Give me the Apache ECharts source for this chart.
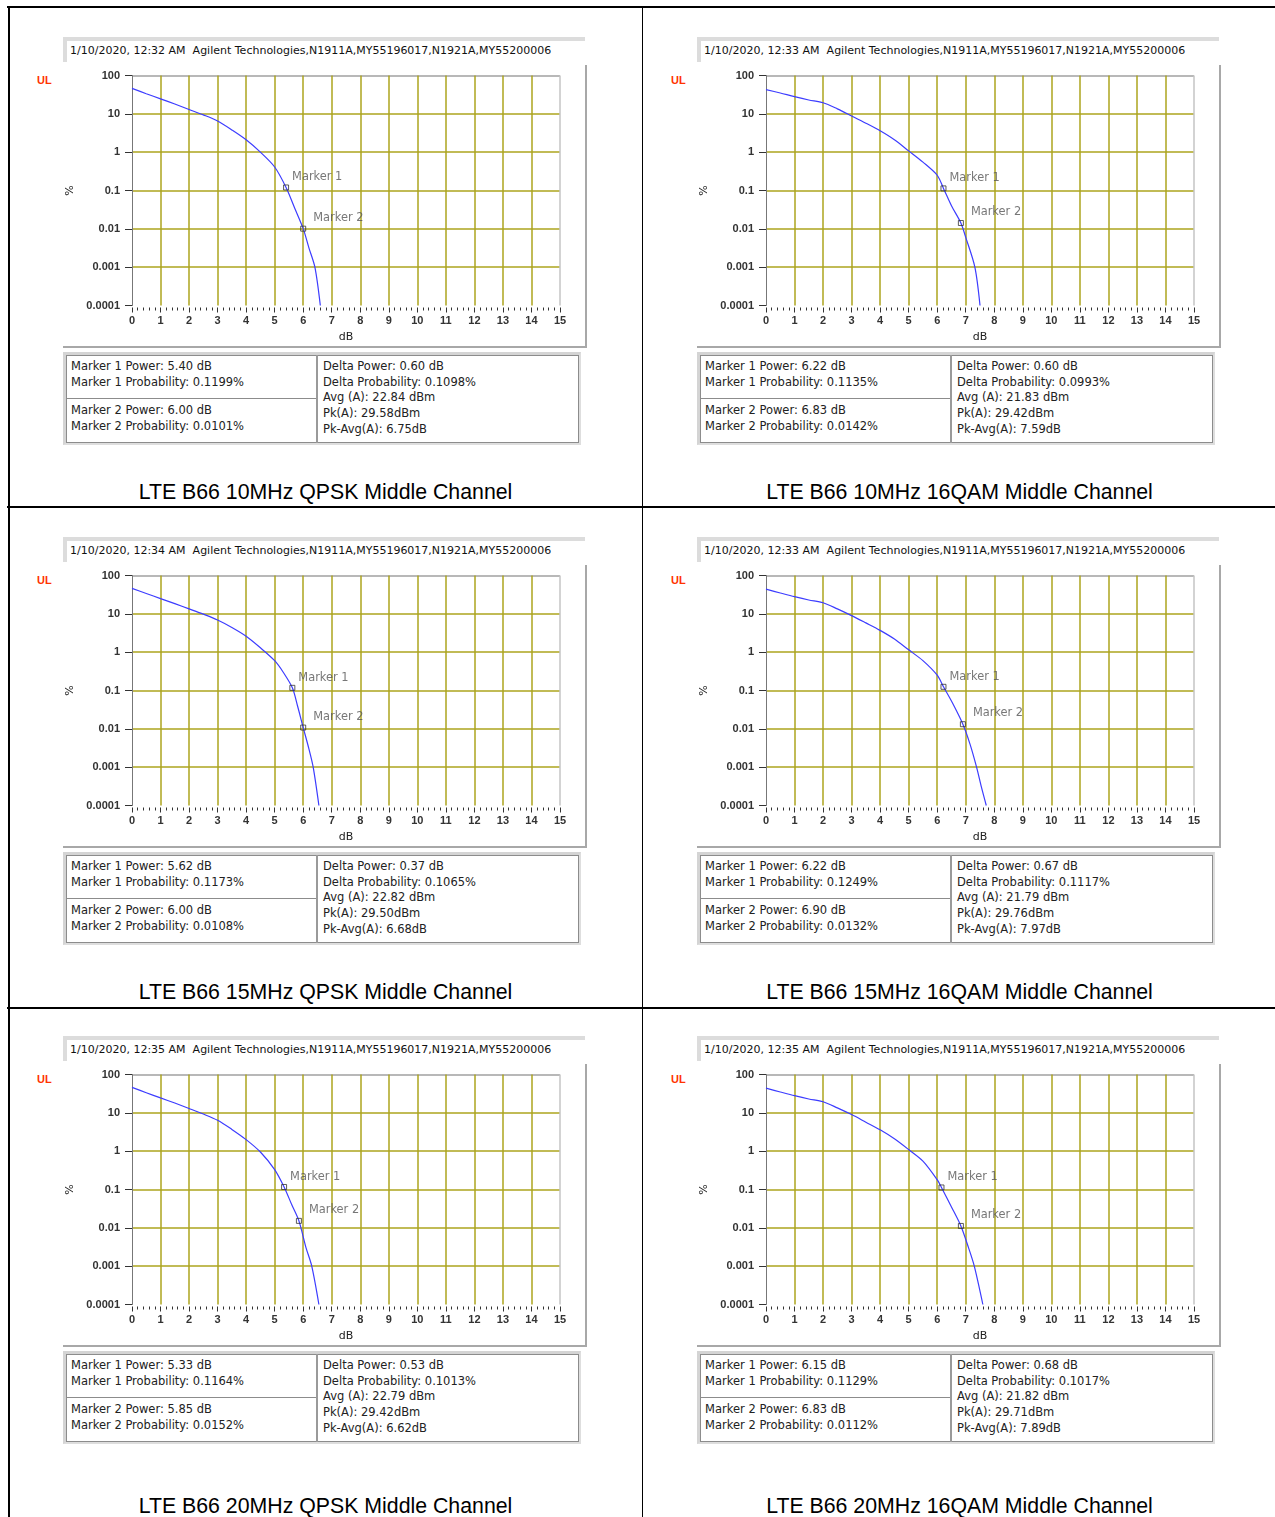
<!DOCTYPE html>
<html><head><meta charset="utf-8">
<script src="https://cdn.jsdelivr.net/npm/echarts@6/dist/echarts.min.js"></script>
<style>
body{margin:0;background:#fff;width:1275px;height:1517px;position:relative;overflow:hidden;font-family:'DejaVu Sans',sans-serif;}
.a{position:absolute;box-sizing:border-box;}
.t{position:absolute;white-space:pre;font-family:'DejaVu Sans',sans-serif;font-size:11.5px;color:#222;line-height:15.7px;}
</style></head><body>
<script>
// ---------- data ----------
const xTickLabels = ['0','1','2','3','4','5','6','7','8','9','10','11','12','13','14','15'];
const yTickLabels = ['0.0001','0.001','0.01','0.1','1','10','100'];
const markerNames = ['Marker 1','Marker 2'];

const headers = [
  '1/10/2020, 12:32 AM  Agilent Technologies,N1911A,MY55196017,N1921A,MY55200006',
  '1/10/2020, 12:33 AM  Agilent Technologies,N1911A,MY55196017,N1921A,MY55200006',
  '1/10/2020, 12:34 AM  Agilent Technologies,N1911A,MY55196017,N1921A,MY55200006',
  '1/10/2020, 12:33 AM  Agilent Technologies,N1911A,MY55196017,N1921A,MY55200006',
  '1/10/2020, 12:35 AM  Agilent Technologies,N1911A,MY55196017,N1921A,MY55200006',
  '1/10/2020, 12:35 AM  Agilent Technologies,N1911A,MY55196017,N1921A,MY55200006'
];
const captions = [
  'LTE B66 10MHz QPSK Middle Channel','LTE B66 10MHz 16QAM Middle Channel',
  'LTE B66 15MHz QPSK Middle Channel','LTE B66 15MHz 16QAM Middle Channel',
  'LTE B66 20MHz QPSK Middle Channel','LTE B66 20MHz 16QAM Middle Channel'
];

// CCDF curves: [dB, %]
const curveQpsk10 = [[0,46],[0.5,33.5],[1,24.6],[1.5,18],[2,13],[2.5,9.4],[3,6.5],[3.5,3.8],[4,2.1],[4.5,1.0],[5,0.41],[5.4,0.1199],[5.7,0.035],[6.0,0.0101],[6.2,0.0032],[6.41,0.001],[6.6,0.0001]];
const curveQam10  = [[0,43],[0.5,35],[1,28],[1.5,23],[2,19.5],[2.5,13.5],[3,8.8],[3.5,5.7],[4,3.6],[4.5,2.1],[5,1.08],[5.5,0.55],[6,0.25],[6.22,0.1135],[6.5,0.04],[6.83,0.0142],[7.0,0.006],[7.32,0.001],[7.5,0.0001]];
const curveQpsk15 = [[0,46],[0.5,34],[1,25],[1.5,18.5],[2,13.5],[2.5,9.8],[3,6.9],[3.5,4.4],[4,2.6],[4.5,1.3],[5,0.6],[5.3,0.3],[5.62,0.1173],[5.8,0.04],[6.0,0.0108],[6.2,0.003],[6.35,0.001],[6.55,0.0001]];
const curveQam15  = [[0,44],[0.5,35],[1,28],[1.5,23],[2,19.5],[2.5,13.5],[3,9],[3.5,5.8],[4,3.7],[4.5,2.2],[5,1.15],[5.5,0.6],[6,0.25],[6.22,0.1249],[6.55,0.045],[6.9,0.0132],[7.15,0.004],[7.38,0.001],[7.55,0.0003],[7.72,0.0001]];
const curveQpsk20 = [[0,46],[0.5,33.5],[1,24.5],[1.5,18],[2,13],[2.5,9.3],[3,6.4],[3.5,3.7],[4,2.0],[4.5,0.95],[5,0.33],[5.33,0.1164],[5.6,0.04],[5.85,0.0152],[6.1,0.003],[6.3,0.001],[6.55,0.0001]];
const curveQam20  = [[0,44],[0.5,35],[1,28],[1.5,23],[2,19.5],[2.5,13.5],[3,9],[3.5,5.7],[4,3.6],[4.5,2.1],[5,1.1],[5.5,0.55],[6,0.18],[6.15,0.1129],[6.5,0.035],[6.83,0.0112],[7.1,0.003],[7.3,0.001],[7.6,0.0001]];

// markers: [power dB, probability %]
const markersQpsk10 = [[5.40,0.1199],[6.00,0.0101]];
const markersQam10  = [[6.22,0.1135],[6.83,0.0142]];
const markersQpsk15 = [[5.62,0.1173],[6.00,0.0108]];
const markersQam15  = [[6.22,0.1249],[6.90,0.0132]];
const markersQpsk20 = [[5.33,0.1164],[5.85,0.0152]];
const markersQam20  = [[6.15,0.1129],[6.83,0.0112]];

// delta / summary lines
const summaryQpsk10 = ['Delta Power: 0.60 dB','Delta Probability: 0.1098%','Avg (A): 22.84 dBm','Pk(A): 29.58dBm','Pk-Avg(A): 6.75dB'];
const summaryQam10  = ['Delta Power: 0.60 dB','Delta Probability: 0.0993%','Avg (A): 21.83 dBm','Pk(A): 29.42dBm','Pk-Avg(A): 7.59dB'];
const summaryQpsk15 = ['Delta Power: 0.37 dB','Delta Probability: 0.1065%','Avg (A): 22.82 dBm','Pk(A): 29.50dBm','Pk-Avg(A): 6.68dB'];
const summaryQam15  = ['Delta Power: 0.67 dB','Delta Probability: 0.1117%','Avg (A): 21.79 dBm','Pk(A): 29.76dBm','Pk-Avg(A): 7.97dB'];
const summaryQpsk20 = ['Delta Power: 0.53 dB','Delta Probability: 0.1013%','Avg (A): 22.79 dBm','Pk(A): 29.42dBm','Pk-Avg(A): 6.62dB'];
const summaryQam20  = ['Delta Power: 0.68 dB','Delta Probability: 0.1017%','Avg (A): 21.82 dBm','Pk(A): 29.71dBm','Pk-Avg(A): 7.89dB'];

// ---------- layout ----------
const curves = [curveQpsk10,curveQam10,curveQpsk15,curveQam15,curveQpsk20,curveQam20];
const markers = [markersQpsk10,markersQam10,markersQpsk15,markersQam15,markersQpsk20,markersQam20];
const summaries = [summaryQpsk10,summaryQam10,summaryQpsk15,summaryQam15,summaryQpsk20,summaryQam20];

function el(cls, css, text){
  const d=document.createElement('div'); d.className=cls;
  Object.assign(d.style, css); if(text!==undefined) d.textContent=text;
  document.body.appendChild(d); return d;
}
function px(v){return v+'px';}

// outer table lines
el('a',{left:'7px',top:'6px',width:'1270px',height:'2px',background:'#000'});
el('a',{left:'7.5px',top:'6px',width:'2px',height:'1511px',background:'#000'});
el('a',{left:'641.7px',top:'6px',width:'1.8px',height:'1511px',background:'#000'});
el('a',{left:'7px',top:'506px',width:'1270px',height:'2px',background:'#000'});
el('a',{left:'7px',top:'1007px',width:'1270px',height:'2px',background:'#000'});

const OLIVE='#ada51e';
const rowOff=[0,500,999];
const capY=[492,492,507];

for(let i=0;i<6;i++){
  const c=i%2, r=Math.floor(i/2);
  const ox=634*c, oy=rowOff[r];
  // header bar
  el('a',{left:px(ox+63),top:px(oy+37),width:'522px',height:'25px',borderTop:'4px solid #dcdcdc',borderLeft:'4px solid #dcdcdc',
    fontFamily:"'DejaVu Sans',sans-serif",fontSize:'11px',color:'#111',lineHeight:'19px',paddingLeft:'3px',whiteSpace:'pre'}, headers[i]);
  // UL
  el('a',{left:px(ox+37),top:px(oy+74),fontFamily:"'Liberation Sans',sans-serif",fontWeight:'bold',fontSize:'11px',color:'#ff3300',lineHeight:'13px'},'UL');
  // frame shadow
  el('a',{left:px(ox+585),top:px(oy+65),width:'2px',height:'283px',background:'#a8a8a8'});
  el('a',{left:px(ox+63),top:px(oy+346),width:'524px',height:'2px',background:'#a8a8a8'});
  // chart
  const div=el('a',{left:px(ox+40),top:px(oy+60),width:'560px',height:'290px'});
  const chart=echarts.init(div,null,{renderer:'canvas'});
  const xSplitColors=xTickLabels.map((_,k)=>k===0?'rgba(0,0,0,0)':(k===15?'#c4c4c4':OLIVE));
  const ySplitColors=yTickLabels.map((_,k)=>k===0?'rgba(0,0,0,0)':(k===6?'#a0a0a0':OLIVE));
  chart.setOption({
    animation:false,
    grid:{left:92,top:15.5,width:428,height:230,show:false},
    xAxis:{type:'value',min:0,max:15,interval:1,offset:2,
      name:'dB',nameLocation:'middle',nameGap:24,
      nameTextStyle:{fontFamily:'DejaVu Sans',fontSize:11,color:'#222'},
      axisLine:{show:false},
      axisTick:{show:true,length:5,lineStyle:{color:'#333',width:1}},
      minorTick:{show:true,splitNumber:5,length:3,lineStyle:{color:'#333',width:1}},
      axisLabel:{margin:8,fontFamily:'Liberation Sans',fontWeight:'bold',fontSize:11,color:'#333',
        formatter:v=>xTickLabels[Math.round(v)]},
      splitLine:{show:true,lineStyle:{color:xSplitColors,width:1.5}},
      minorSplitLine:{show:false}},
    yAxis:{type:'log',logBase:10,min:0.0001,max:100,splitNumber:6,
      name:'%',nameLocation:'middle',nameGap:50,nameRotate:90,
      nameTextStyle:{fontFamily:'DejaVu Sans',fontSize:11,color:'#222'},
      axisLine:{show:true,lineStyle:{color:'#777',width:1}},
      axisTick:{show:true,length:7,lineStyle:{color:'#333'}},
      axisLabel:{margin:12,fontFamily:'Liberation Sans',fontWeight:'bold',fontSize:11,color:'#333',
        formatter:v=>yTickLabels[Math.round(Math.log10(v))+4]},
      splitLine:{show:true,lineStyle:{color:ySplitColors,width:1.5}}},
    series:[
      {type:'line',data:curves[i],showSymbol:false,smooth:0.3,lineStyle:{color:'#3c3cff',width:1.2},z:3},
      {type:'scatter',data:markers[i].map((m,k)=>({value:m,label:{offset:k===0?[0,-10]:[4,-11]}})),
        symbol:'rect',symbolSize:5,z:5,
        itemStyle:{color:'rgba(255,255,255,0)',borderColor:'#333',borderWidth:1},
        label:{show:true,position:'right',distance:3,formatter:p=>markerNames[p.dataIndex],
          fontFamily:'DejaVu Sans',fontSize:11.4,color:'#555'}}
    ]
  });
  // table
  el('a',{left:px(ox+63),top:px(oy+352),width:'518px',height:'93px',borderTop:'3px solid #d4d4d4',borderLeft:'3px solid #d4d4d4',borderRight:'2px solid #dedede',borderBottom:'2px solid #dedede'});
  el('a',{left:px(ox+66),top:px(oy+355),width:'513px',height:'88px',border:'1px solid #8c8c8c'});
  el('a',{left:px(ox+316),top:px(oy+355),width:'2px',height:'88px',background:'#9a9a9a'});
  el('a',{left:px(ox+66),top:px(oy+398),width:'250px',height:'1px',background:'#8c8c8c'});
  const mk=markers[i];
  el('t',{left:px(ox+71),top:px(oy+359)},'Marker 1 Power: '+mk[0][0].toFixed(2)+' dB\nMarker 1 Probability: '+mk[0][1].toFixed(4)+'%');
  el('t',{left:px(ox+71),top:px(oy+403)},'Marker 2 Power: '+mk[1][0].toFixed(2)+' dB\nMarker 2 Probability: '+mk[1][1].toFixed(4)+'%');
  el('t',{left:px(ox+323),top:px(oy+359)},summaries[i].join('\n'));
  // caption
  const cl=c===0?9:643.5, cw=c===0?633:632;
  el('a',{left:px(cl),top:px(oy+capY[r]-13),width:px(cw),textAlign:'center',fontFamily:"'Liberation Sans',Arial,sans-serif",fontSize:'21.3px',color:'#000',lineHeight:'26px',whiteSpace:'pre'},captions[i]);
}
</script>
</body></html>
